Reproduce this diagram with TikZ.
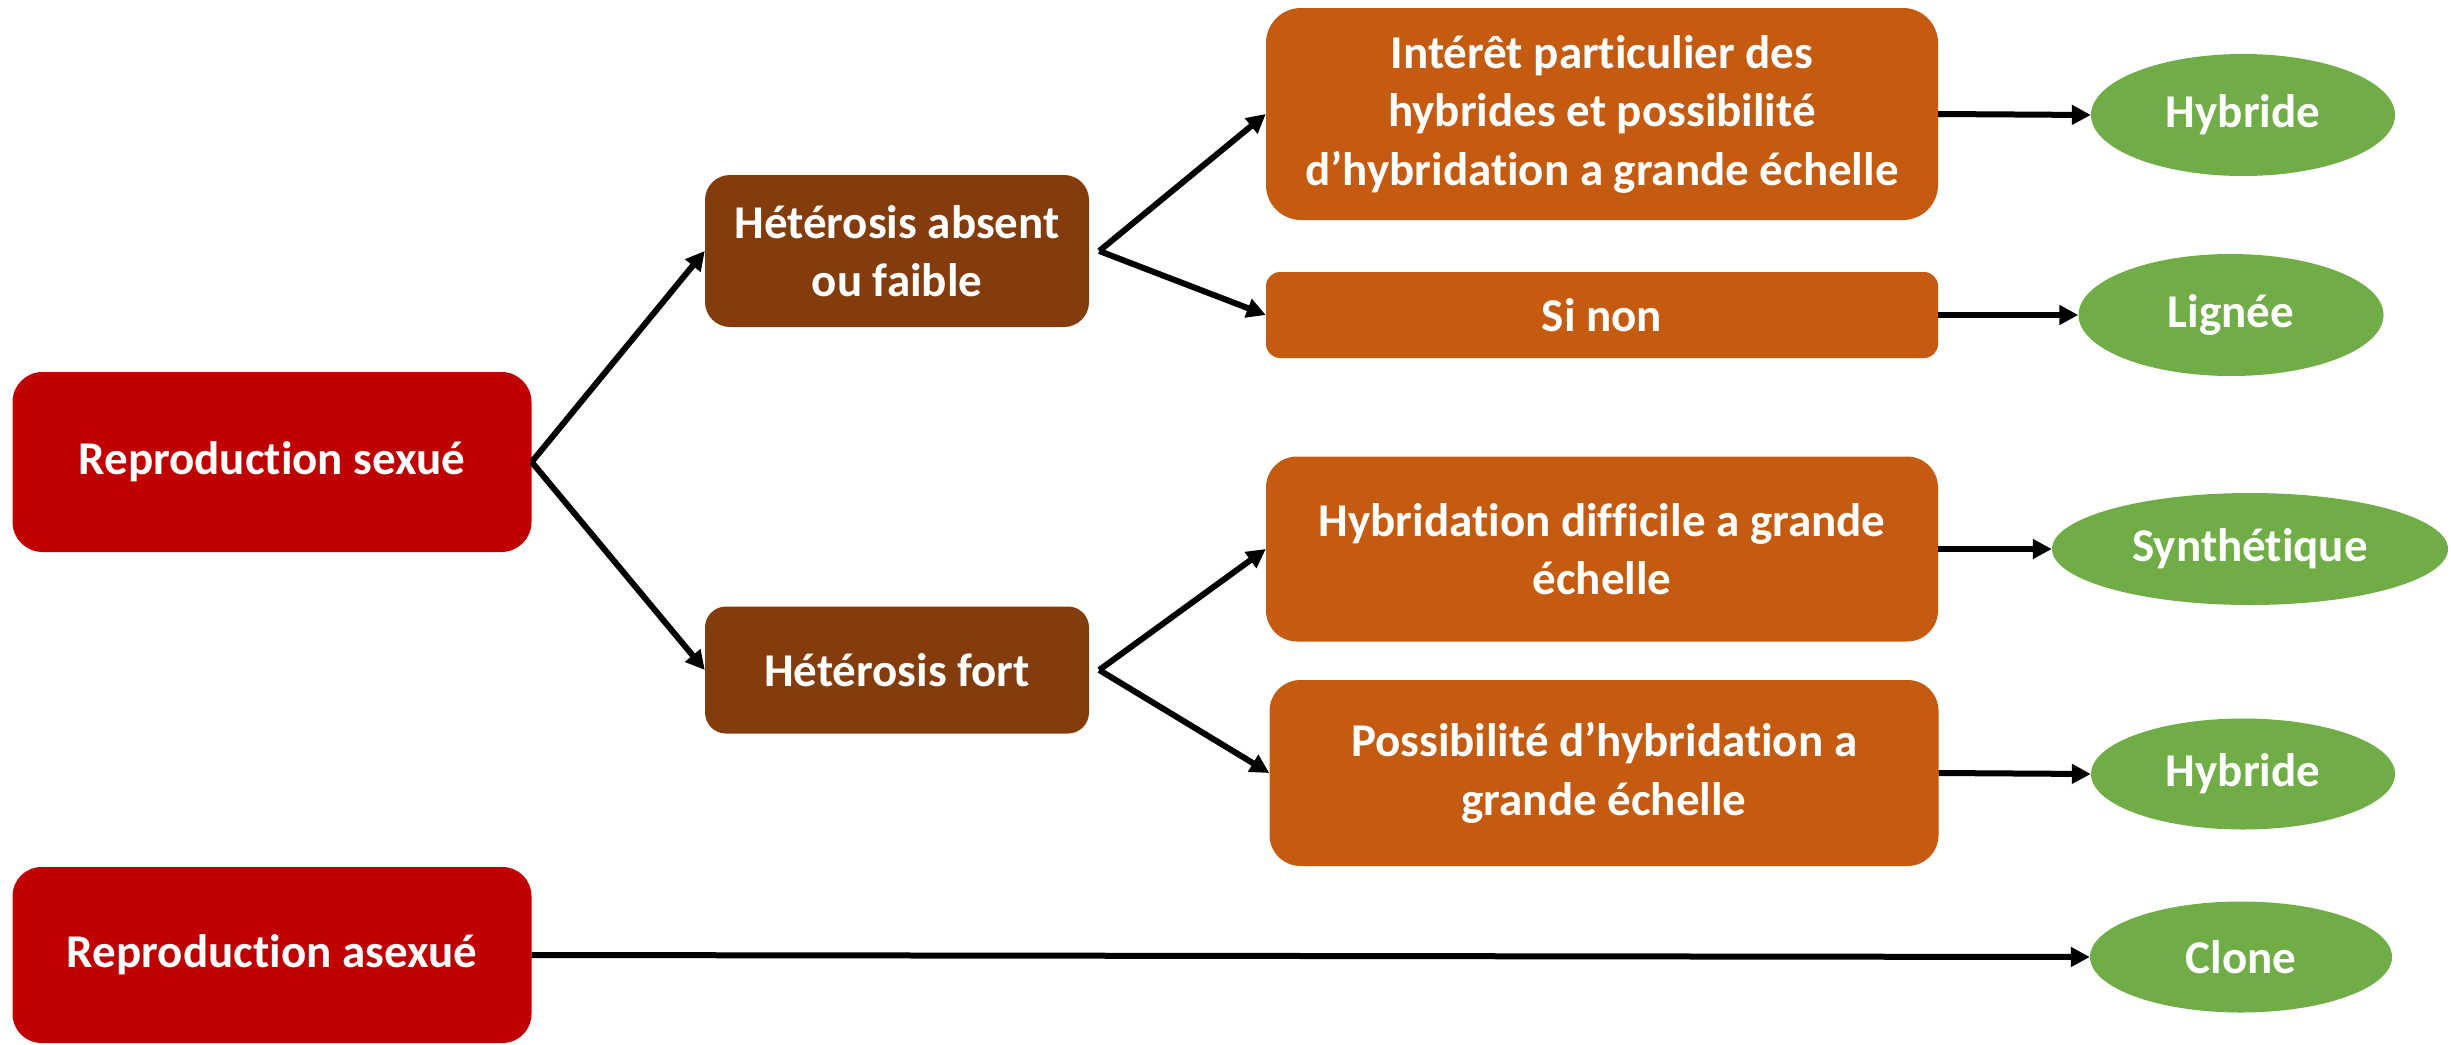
\documentclass[tikz,border=0pt]{standalone}
\usepackage{fontspec}
\setmainfont{Carlito}[Ligatures=NoCommon]
\usetikzlibrary{arrows.meta,shapes.geometric}
\definecolor{redbox}{HTML}{C00000}
\definecolor{brownbox}{HTML}{843C0C}
\definecolor{orangebox}{HTML}{C55A11}
\definecolor{greenell}{HTML}{70AD47}
\begin{document}
\begin{tikzpicture}[x=1pt,y=-1pt,
  lbl/.style={text=white,font=\fontsize{47}{58.5}\selectfont\bfseries,align=center,inner sep=0pt},
  redb/.style={lbl,rectangle,fill=redbox},
  brownb/.style={lbl,rectangle,fill=brownbox},
  orangeb/.style={lbl,rectangle,fill=orangebox},
  outcome/.style={lbl,ellipse,fill=greenell},
  arr/.style={line width=6pt,-{Triangle[length=19pt,width=19pt]}}
]
\useasboundingbox (0,0) rectangle (2451,1044);

% first level: mode of reproduction
\node[redb,minimum width=519pt,minimum height=180pt,rounded corners=30pt] (sexue) at (272,462) {Reproduction sexué};
\node[redb,minimum width=519pt,minimum height=176pt,rounded corners=29pt] (asexue) at (272,955) {Reproduction asexué};

% second level: heterosis
\node[brownb,minimum width=384pt,minimum height=152pt,rounded corners=25pt] (hab) at (897,251) {Hétérosis absent\\ou faible};
\node[brownb,minimum width=384pt,minimum height=127pt,rounded corners=21pt] (hfort) at (897,670) {Hétérosis fort};

% third level: conditions
\node[orangeb,minimum width=672pt,minimum height=212pt,rounded corners=35pt] (interet) at (1602,114) {Intérêt particulier des\\hybrides et possibilité\\d’hybridation a grande échelle};
\node[orangeb,minimum width=672pt,minimum height=86pt,rounded corners=14pt] (sinon) at (1602,315) {Si non};
\node[orangeb,minimum width=672pt,minimum height=185pt,rounded corners=31pt] (hdiff) at (1602,549) {Hybridation difficile a grande\\échelle};
\node[orangeb,minimum width=669pt,minimum height=186pt,rounded corners=31pt] (poss) at (1604,773) {Possibilité d’hybridation a\\grande échelle};

% resulting variety types
\node[outcome,minimum width=304pt,minimum height=122pt] (hyb1) at (2243,115) {Hybride};
\node[outcome,minimum width=305pt,minimum height=122pt] (lignee) at (2231,315) {Lignée};
\node[outcome,minimum width=396pt,minimum height=112pt] (synth) at (2250,549) {Synthétique};
\node[outcome,minimum width=304pt,minimum height=111pt] (hyb2) at (2243,774) {Hybride};
\node[outcome,minimum width=302pt,minimum height=111pt] (clone) at (2241,957) {Clone};

% connectors
\draw[arr] (sexue.east) -- (hab.west);
\draw[arr] (sexue.east) -- (hfort.west);
\draw[arr] ([xshift=10pt]hab.east) -- (interet.west);
\draw[arr] ([xshift=10pt]hab.east) -- (sinon.west);
\draw[arr] ([xshift=10pt]hfort.east) -- (hdiff.west);
\draw[arr] ([xshift=10pt]hfort.east) -- (poss.west);
\draw[arr] (interet.east) -- (hyb1.west);
\draw[arr] (sinon.east) -- (lignee.west);
\draw[arr] (hdiff.east) -- (synth.west);
\draw[arr] (poss.east) -- (hyb2.west);
\draw[arr] (asexue.east) -- (clone.west);
\end{tikzpicture}
\end{document}
